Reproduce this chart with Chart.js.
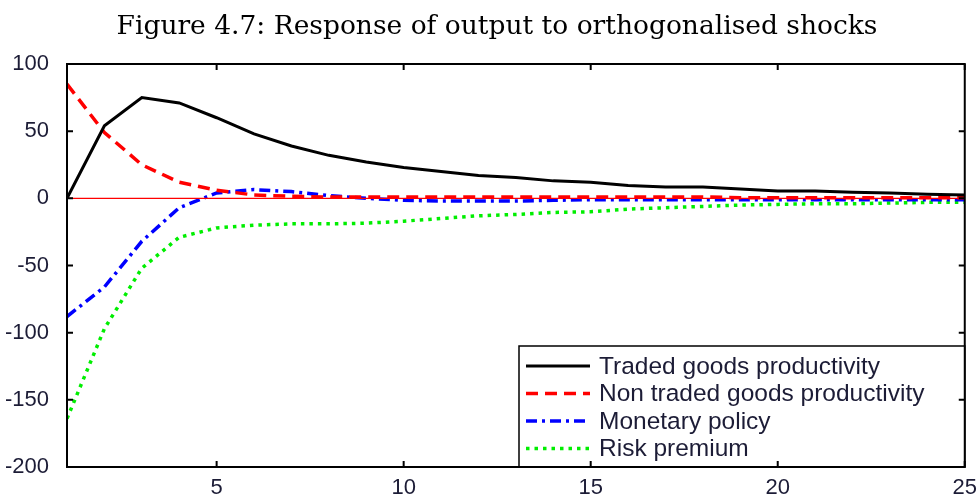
<!DOCTYPE html>
<html>
<head>
<meta charset="utf-8">
<script src="https://cdn.jsdelivr.net/npm/chart.js@4.4.0/dist/chart.umd.min.js"></script>
<style>
  html, body { margin: 0; padding: 0; background: #fff; }
  #wrap { width: 977px; height: 497px; }
</style>
</head>
<body>
<div id="wrap"><canvas id="irfChart"></canvas></div>
<script>
// impulse responses of output, periods 1..25
const periods = [1, 2, 3, 4, 5, 6, 7, 8, 9, 10, 11, 12, 13, 14, 15, 16, 17, 18, 19, 20, 21, 22, 23, 24, 25];
const tradedGoods = [0, 54, 75, 71, 60, 48, 39, 32, 27, 23, 20, 17, 15.5, 13, 12, 9.5, 8.5, 8.5, 7, 5.5, 5.5, 4.5, 4, 3, 2.5];
const nonTradedGoods = [85, 49, 25, 12, 6, 2.5, 1.5, 1, 1, 1, 1, 1, 1, 1, 1, 1, 1, 1, 0.5, 0.5, 0.5, 0.5, 0.5, 0.5, 0.5];
const monetaryPolicy = [-88, -66, -32, -7, 4, 6.5, 5, 2, 0, -1.5, -2, -2, -2, -1.5, -1, -1, -1, -1, -1, -1, -1, -1, -1, -1, -1];
const riskPremium = [-164, -97, -52, -29, -22, -20, -19, -19, -18.5, -17, -15, -13, -12, -10.5, -10, -8, -7, -6, -5, -4.5, -4, -4, -3.5, -3, -3];
const zeroLine = [0, 0, 0, 0, 0, 0, 0, 0, 0, 0, 0, 0, 0, 0, 0, 0, 0, 0, 0, 0, 0, 0, 0, 0, 0];

const xTicks = [5, 10, 15, 20, 25];
const yTicks = [-200, -150, -100, -50, 0, 50, 100];

const figureTitle = 'Figure 4.7: Response of output to orthogonalised shocks';

const toPoints = vals => vals.map((v, i) => ({ x: periods[i], y: v }));

const tickFont = { family: "'Liberation Sans', Arial, sans-serif", size: 22 };
const tickColor = '#1c1c36';

// caption above the plot
const captionPlugin = {
  id: 'caption',
  afterDraw(chart) {
    const { ctx } = chart;
    ctx.save();
    ctx.font = "26.5px 'DejaVu Serif', 'Liberation Serif', serif";
    ctx.fillStyle = '#000';
    ctx.textAlign = 'center';
    ctx.textBaseline = 'alphabetic';
    ctx.fillText(figureTitle, 497, 34);
    ctx.restore();
  }
};

// black frame with short inward ticks on all four sides
const framePlugin = {
  id: 'frame',
  afterDraw(chart) {
    const { ctx, chartArea: a, scales } = chart;
    ctx.save();
    ctx.strokeStyle = '#000';
    ctx.lineWidth = 2;
    ctx.strokeRect(a.left, a.top, a.right - a.left, a.bottom - a.top);
    const len = 6;
    xTicks.forEach(v => {
      const px = scales.x.getPixelForValue(v);
      ctx.beginPath();
      ctx.moveTo(px, a.bottom); ctx.lineTo(px, a.bottom - len);
      ctx.moveTo(px, a.top); ctx.lineTo(px, a.top + len);
      ctx.stroke();
    });
    yTicks.forEach(v => {
      const py = scales.y.getPixelForValue(v);
      ctx.beginPath();
      ctx.moveTo(a.left, py); ctx.lineTo(a.left + len, py);
      ctx.moveTo(a.right, py); ctx.lineTo(a.right - len, py);
      ctx.stroke();
    });
    ctx.restore();
  }
};

// boxed legend sitting in the lower right corner of the plot
const boxLegendPlugin = {
  id: 'boxLegend',
  afterDatasetsDraw(chart) {
    const { ctx, chartArea: a } = chart;
    const items = chart.data.datasets.filter(ds => !ds.hideInLegend);
    const left = 519, top = 346;
    ctx.save();
    ctx.fillStyle = '#fff';
    ctx.fillRect(left, top, a.right - left, a.bottom - top);
    ctx.strokeStyle = '#000';
    ctx.lineWidth = 1.5;
    ctx.strokeRect(left, top, a.right - left, a.bottom - top);
    ctx.font = "24.5px 'Liberation Sans', Arial, sans-serif";
    ctx.textBaseline = 'middle';
    items.forEach((ds, i) => {
      const y = top + 20 + i * 27.5;
      ctx.beginPath();
      ctx.strokeStyle = ds.borderColor;
      ctx.lineWidth = ds.borderWidth;
      ctx.setLineDash(ds.borderDash || []);
      ctx.moveTo(526, y); ctx.lineTo(590, y);
      ctx.stroke();
      ctx.setLineDash([]);
      ctx.fillStyle = tickColor;
      ctx.fillText(ds.label, 599, y + 1);
    });
    ctx.restore();
  }
};

new Chart(document.getElementById('irfChart'), {
  type: 'line',
  data: {
    datasets: [
      {
        label: 'zero',
        data: toPoints(zeroLine),
        borderColor: '#ff0000',
        borderWidth: 1.2,
        hideInLegend: true
      },
      {
        label: 'Traded goods productivity',
        data: toPoints(tradedGoods),
        borderColor: '#000000',
        borderWidth: 3
      },
      {
        label: 'Non traded goods productivity',
        data: toPoints(nonTradedGoods),
        borderColor: '#ff0000',
        borderWidth: 3.5,
        borderDash: [12, 7]
      },
      {
        label: 'Monetary policy',
        data: toPoints(monetaryPolicy),
        borderColor: '#0000ff',
        borderWidth: 3.5,
        borderDash: [11, 5, 3, 5]
      },
      {
        label: 'Risk premium',
        data: toPoints(riskPremium),
        borderColor: '#00ee00',
        borderWidth: 3.5,
        borderDash: [3.5, 5]
      }
    ]
  },
  options: {
    responsive: true,
    maintainAspectRatio: false,
    animation: false,
    layout: { padding: { left: 0, right: 12, top: 64, bottom: 0 } },
    elements: {
      point: { radius: 0 },
      line: { tension: 0, fill: false, borderCapStyle: 'butt' }
    },
    plugins: {
      legend: { display: false },
      tooltip: { enabled: false },
      title: { display: false }
    },
    scales: {
      x: {
        type: 'linear',
        min: 1,
        max: 25,
        grid: { display: false },
        border: { display: false },
        afterBuildTicks: axis => { axis.ticks = xTicks.map(v => ({ value: v })); },
        afterFit: axis => { axis.height = 30; },
        ticks: { font: tickFont, color: tickColor, padding: 0, maxRotation: 0 }
      },
      y: {
        min: -200,
        max: 100,
        grid: { display: false },
        border: { display: false },
        afterBuildTicks: axis => { axis.ticks = yTicks.map(v => ({ value: v })); },
        afterFit: axis => { axis.width = 67; },
        ticks: { font: tickFont, color: tickColor, padding: 10 }
      }
    }
  },
  plugins: [framePlugin, boxLegendPlugin, captionPlugin]
});
</script>
</body>
</html>
